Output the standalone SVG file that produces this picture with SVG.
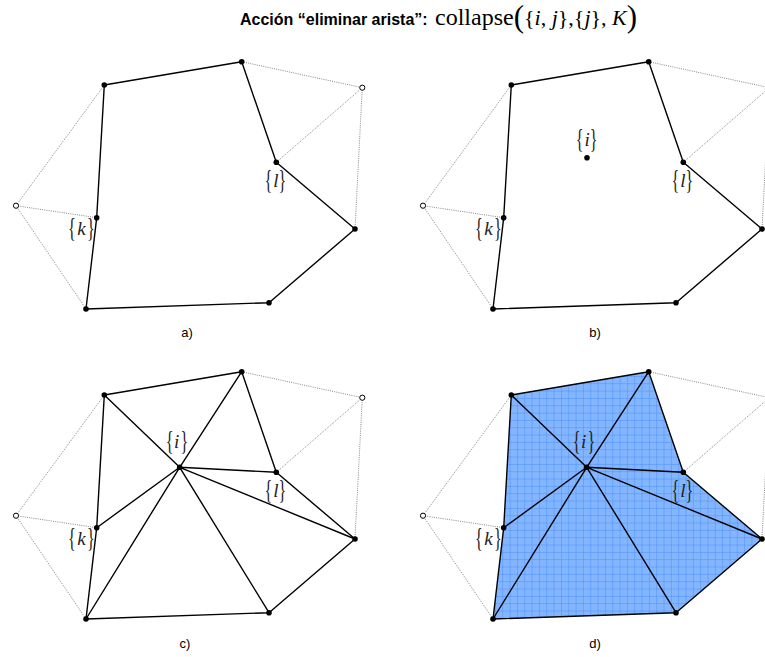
<svg xmlns="http://www.w3.org/2000/svg" width="765" height="657" viewBox="0 0 765 657">
<style>
.solid{stroke:#000;stroke-width:1.4;fill:none;stroke-linejoin:round;stroke-linecap:round}
.dot{stroke:#555;stroke-width:0.7;fill:none;stroke-dasharray:1 1.2}
.nd{fill:#000}
.open{fill:#fff;stroke:#000;stroke-width:1}
.br{font-family:"Liberation Serif",serif;font-size:19px;text-anchor:middle;fill:#222}
.it{font-family:"Liberation Serif",serif;font-style:italic;font-size:19px;text-anchor:middle;fill:#222}
.cap{font-family:"Liberation Sans",Arial,sans-serif;font-size:13px;text-anchor:middle;fill:#000}
.f{font-family:"Liberation Serif",serif;font-size:22px;fill:#000}
.fi{font-style:italic}
</style>
<defs>
<pattern id="grid" patternUnits="userSpaceOnUse" width="7.33" height="7.33">
<rect width="7.33" height="7.33" fill="#84b5ff"/>
<path d="M0 0H7.33M0 0V7.33" stroke="#3384ff" stroke-width="0.75"/>
</pattern>
<g id="dots">
<path class="dot" d="M16 205.7L104.3 85M16 205.7L96.7 217.7M16 205.7L86 309M241.7 61.7L362.3 87.7L276.3 162.3M362.3 87.7L355 229"/>
</g>
<path id="boundary" class="solid" d="M104.3 85L241.7 61.7L276.3 162.3L355 229L269 302.7L86 309L96.7 217.7Z"/>
<path id="spokes" class="solid" d="M179.7 157.3L104.3 85M179.7 157.3L241.7 61.7M179.7 157.3L276.3 162.3M179.7 157.3L355 229M179.7 157.3L269 302.7M179.7 157.3L86 309M179.7 157.3L96.7 217.7"/>
</defs>

<g id="title">
<text x="240" y="25" font-family="Liberation Sans, Arial, sans-serif" font-weight="bold" font-size="16">Acción “eliminar arista”:</text>
<text class="f" x="435" y="25"><tspan font-size="24">collapse</tspan><tspan font-size="31" dy="2">(</tspan><tspan dy="-2">{</tspan><tspan class="fi">i</tspan>, <tspan class="fi">j</tspan>},{<tspan class="fi">j</tspan>}, <tspan class="fi">K</tspan><tspan font-size="31" dy="2">)</tspan></text>
</g>

<!-- Panel a -->
<g id="panel-a">
<g id="a-connectors">
<use href="#dots"/>
<use href="#boundary"/>
</g>
<g id="a-nodes">
<g id="a-OL"><circle class="open" cx="16" cy="205.7" r="2.6"/></g>
<g id="a-OTR"><circle class="open" cx="362.3" cy="87.7" r="2.6"/></g>
<g id="a-A"><circle class="nd" cx="104.3" cy="85" r="2.8"/></g>
<g id="a-B"><circle class="nd" cx="241.7" cy="61.7" r="2.8"/></g>
<g id="a-L"><circle class="nd" cx="276.3" cy="162.3" r="2.8"/>
<text class="br" transform="translate(268.3,189) scale(0.85,1.4)">{</text><text class="it" x="275.8" y="187">l</text><text class="br" transform="translate(282.5,189) scale(0.85,1.4)">}</text></g>
<g id="a-R"><circle class="nd" cx="355" cy="229" r="2.8"/></g>
<g id="a-BR"><circle class="nd" cx="269" cy="302.7" r="2.8"/></g>
<g id="a-BL"><circle class="nd" cx="86" cy="309" r="2.8"/></g>
<g id="a-K"><circle class="nd" cx="96.7" cy="217.7" r="2.8"/>
<text class="br" transform="translate(72,237) scale(0.85,1.4)">{</text><text class="it" x="81.5" y="235">k</text><text class="br" transform="translate(91,237) scale(0.85,1.4)">}</text></g>
</g>
<text class="cap" x="187" y="337">a)</text>
</g>

<!-- Panel b -->
<g id="panel-b" transform="translate(407,0)">
<g id="b-connectors">
<use href="#dots"/>
<use href="#boundary"/>
</g>
<g id="b-nodes">
<g id="b-OL"><circle class="open" cx="16" cy="205.7" r="2.6"/></g>
<g id="b-OTR"><circle class="open" cx="362.3" cy="87.7" r="2.6"/></g>
<g id="b-A"><circle class="nd" cx="104.3" cy="85" r="2.8"/></g>
<g id="b-B"><circle class="nd" cx="241.7" cy="61.7" r="2.8"/></g>
<g id="b-L"><circle class="nd" cx="276.3" cy="162.3" r="2.8"/>
<text class="br" transform="translate(268.3,189) scale(0.85,1.4)">{</text><text class="it" x="275.8" y="187">l</text><text class="br" transform="translate(282.5,189) scale(0.85,1.4)">}</text></g>
<g id="b-R"><circle class="nd" cx="355" cy="229" r="2.8"/></g>
<g id="b-BR"><circle class="nd" cx="269" cy="302.7" r="2.8"/></g>
<g id="b-BL"><circle class="nd" cx="86" cy="309" r="2.8"/></g>
<g id="b-K"><circle class="nd" cx="96.7" cy="217.7" r="2.8"/>
<text class="br" transform="translate(72,237) scale(0.85,1.4)">{</text><text class="it" x="81.5" y="235">k</text><text class="br" transform="translate(91,237) scale(0.85,1.4)">}</text></g>
<g id="b-I"><circle class="nd" cx="180" cy="157.7" r="2.8"/>
<text class="br" transform="translate(172.7,148) scale(0.85,1.4)">{</text><text class="it" x="180.2" y="146">i</text><text class="br" transform="translate(186.7,148) scale(0.85,1.4)">}</text></g>
</g>
<text class="cap" x="188" y="337">b)</text>
</g>

<!-- Panel c -->
<g id="panel-c" transform="translate(0,310)">
<g id="c-connectors">
<use href="#dots"/>
<use href="#boundary"/>
<use href="#spokes"/>
</g>
<g id="c-nodes">
<g id="c-OL"><circle class="open" cx="16" cy="205.7" r="2.6"/></g>
<g id="c-OTR"><circle class="open" cx="362.3" cy="87.7" r="2.6"/></g>
<g id="c-A"><circle class="nd" cx="104.3" cy="85" r="2.8"/></g>
<g id="c-B"><circle class="nd" cx="241.7" cy="61.7" r="2.8"/></g>
<g id="c-L"><circle class="nd" cx="276.3" cy="162.3" r="2.8"/>
<text class="br" transform="translate(268.3,189) scale(0.85,1.4)">{</text><text class="it" x="275.8" y="187">l</text><text class="br" transform="translate(282.5,189) scale(0.85,1.4)">}</text></g>
<g id="c-R"><circle class="nd" cx="355" cy="229" r="2.8"/></g>
<g id="c-BR"><circle class="nd" cx="269" cy="302.7" r="2.8"/></g>
<g id="c-BL"><circle class="nd" cx="86" cy="309" r="2.8"/></g>
<g id="c-K"><circle class="nd" cx="96.7" cy="217.7" r="2.8"/>
<text class="br" transform="translate(72,237) scale(0.85,1.4)">{</text><text class="it" x="81.5" y="235">k</text><text class="br" transform="translate(91,237) scale(0.85,1.4)">}</text></g>
<g id="c-I"><circle class="nd" cx="179.7" cy="157.3" r="2.8"/>
<text class="br" transform="translate(169.7,140) scale(0.85,1.4)">{</text><text class="it" x="176.7" y="138">i</text><text class="br" transform="translate(184.3,140) scale(0.85,1.4)">}</text></g>
</g>
<text class="cap" x="185" y="338">c)</text>
</g>

<!-- Panel d -->
<g id="panel-d" transform="translate(407,310)">
<path id="d-fill" d="M104.3 85L241.7 61.7L276.3 162.3L355 229L269 302.7L86 309L96.7 217.7Z" fill="url(#grid)"/>
<g id="d-connectors">
<use href="#dots"/>
<use href="#boundary"/>
<use href="#spokes"/>
</g>
<g id="d-nodes">
<g id="d-OL"><circle class="open" cx="16" cy="205.7" r="2.6"/></g>
<g id="d-OTR"><circle class="open" cx="362.3" cy="87.7" r="2.6"/></g>
<g id="d-A"><circle class="nd" cx="104.3" cy="85" r="2.8"/></g>
<g id="d-B"><circle class="nd" cx="241.7" cy="61.7" r="2.8"/></g>
<g id="d-L"><circle class="nd" cx="276.3" cy="162.3" r="2.8"/>
<text class="br" transform="translate(268.3,189) scale(0.85,1.4)">{</text><text class="it" x="275.8" y="187">l</text><text class="br" transform="translate(282.5,189) scale(0.85,1.4)">}</text></g>
<g id="d-R"><circle class="nd" cx="355" cy="229" r="2.8"/></g>
<g id="d-BR"><circle class="nd" cx="269" cy="302.7" r="2.8"/></g>
<g id="d-BL"><circle class="nd" cx="86" cy="309" r="2.8"/></g>
<g id="d-K"><circle class="nd" cx="96.7" cy="217.7" r="2.8"/>
<text class="br" transform="translate(72,237) scale(0.85,1.4)">{</text><text class="it" x="81.5" y="235">k</text><text class="br" transform="translate(91,237) scale(0.85,1.4)">}</text></g>
<g id="d-I"><circle class="nd" cx="179.7" cy="157.3" r="2.8"/>
<text class="br" transform="translate(169.7,140) scale(0.85,1.4)">{</text><text class="it" x="176.7" y="138">i</text><text class="br" transform="translate(184.3,140) scale(0.85,1.4)">}</text></g>
</g>
<text class="cap" x="188" y="338">d)</text>
</g>
</svg>
